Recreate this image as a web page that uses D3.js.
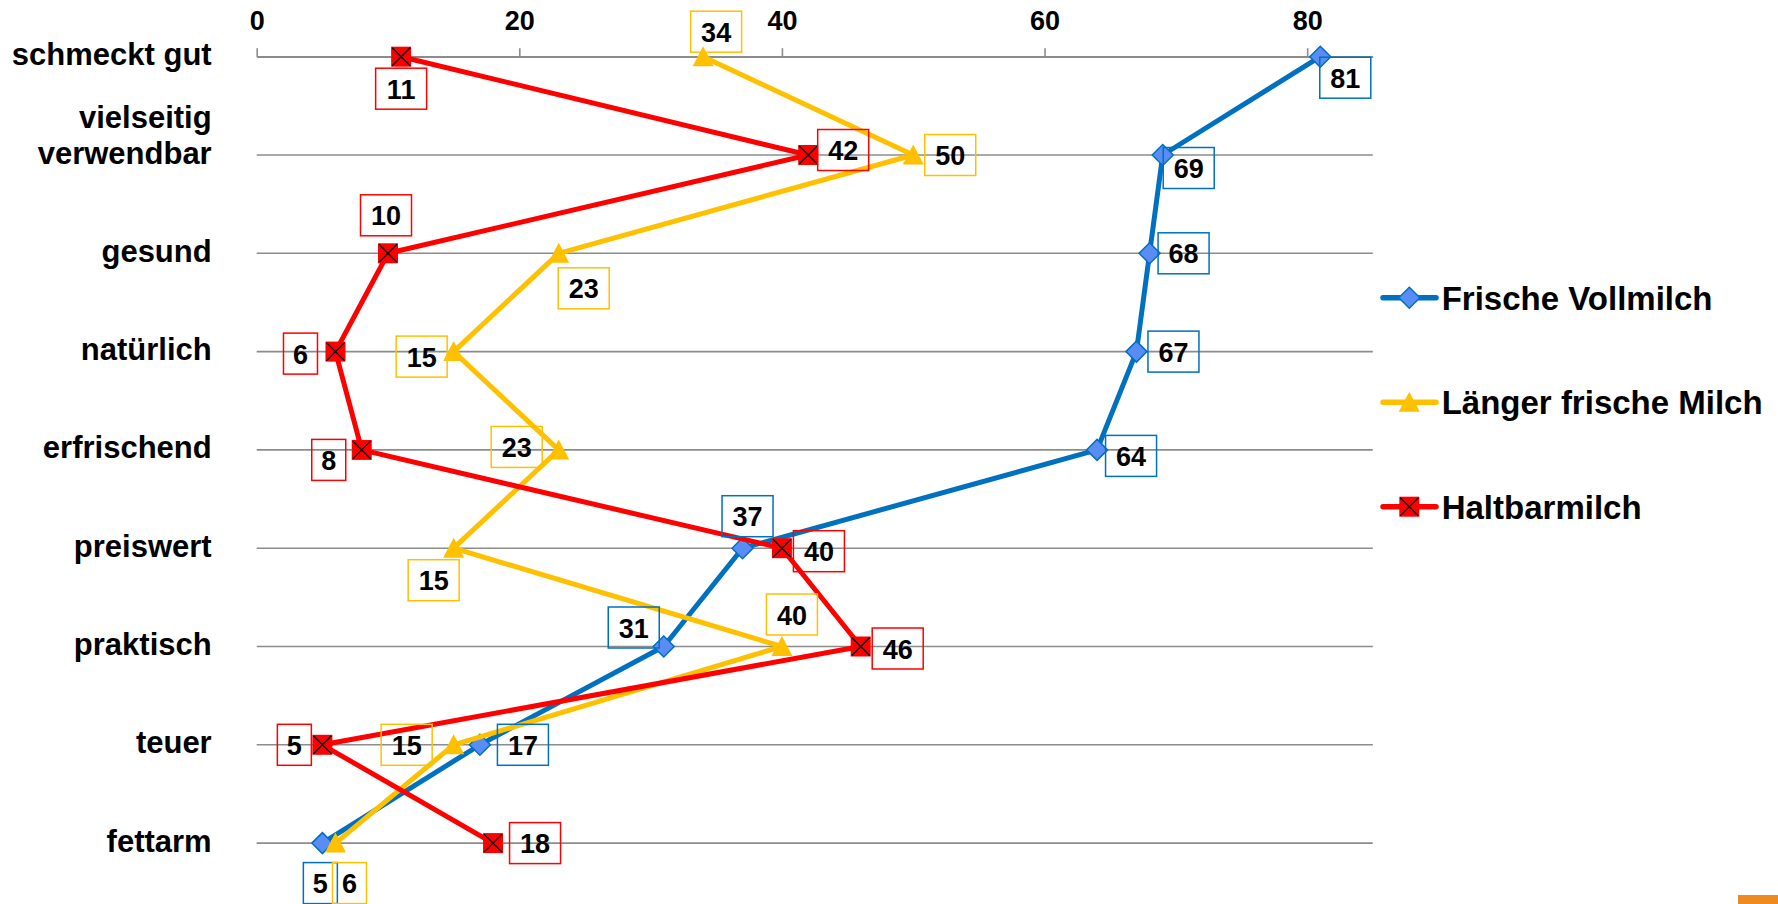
<!DOCTYPE html>
<html>
<head>
<meta charset="utf-8">
<script src="https://cdn.jsdelivr.net/npm/d3@7"></script>
<style>
  body { margin: 0; background: #fff; }
  svg { display: block; font-family: "Liberation Sans", Arial, sans-serif; font-weight: bold; }
</style>
</head>
<body>
<svg id="chart" width="1778" height="904"></svg>
<script>
// categories top to bottom
var categories = ["schmeckt gut", "vielseitig\nverwendbar", "gesund", "natürlich", "erfrischend",
  "preiswert", "praktisch", "teuer", "fettarm"];

var frischeVollmilch = [81, 69, 68, 67, 64, 37, 31, 17, 5];
var laengerFrischeMilch = [34, 50, 23, 15, 23, 15, 40, 15, 6];
var haltbarmilch = [11, 42, 10, 6, 8, 40, 46, 5, 18];

var seriesNames = ["Frische Vollmilch", "Länger frische Milch", "Haltbarmilch"];
var xTicks = [0, 20, 40, 60, 80];

// where each data label sits, relative to its marker (box centre)
var labelOffsets = [
  [[25, 21], [26, 13], [34, 0], [37, 0], [34, 6], [5, -32], [-30, -19], [43, 0], [-2, 40]],
  [[13, -25], [37, 0], [25, 35], [-32, 5], [-42, -3], [-20, 32], [10, -32], [-47, 0], [14, 40]],
  [[0, 32], [35, -5], [-2, -38], [-35, 2], [-33, 10], [37, 3], [37, 2], [-28, 0], [42, 0]]
];

var colors = ["#0070C0", "#FFC000", "#FF0000"];
var markers = ["diamond", "triangle", "cross"];

var svg = d3.select("#chart");

var x = d3.scaleLinear().domain([0, 85]).range([256.7, 1372.8]);
var y = d3.scalePoint().domain(categories).range([56.7, 843.1]).padding(0);

// horizontal gridlines at every category
svg.append("g")
  .selectAll("line")
  .data(categories)
  .enter()
  .append("line")
  .attr("x1", x(0))
  .attr("x2", x(85))
  .attr("y1", d => y(d))
  .attr("y2", d => y(d))
  .attr("stroke", "#8c8c8c")
  .attr("stroke-width", 1.6);

// value axis on top
var axis = svg.append("g")
  .attr("transform", "translate(0," + y(categories[0]) + ")")
  .call(d3.axisTop(x).tickValues(xTicks).tickSize(8.5).tickSizeOuter(0));
axis.select(".domain").attr("stroke", "#8c8c8c").attr("stroke-width", 1.6);
axis.selectAll(".tick line").attr("stroke", "#8c8c8c").attr("stroke-width", 1.6);
axis.selectAll(".tick text")
  .attr("y", 30 - y(categories[0]))
  .attr("dy", 0)
  .attr("fill", "#000")
  .style("font-size", "27px")
  .style("font-family", "'Liberation Sans', Arial, sans-serif")
  .style("font-weight", "bold");

// category labels
var catLabels = svg.append("g")
  .selectAll("text")
  .data(categories)
  .enter()
  .append("text")
  .attr("text-anchor", "end")
  .attr("x", 211.7)
  .attr("y", d => y(d) + 8.5)
  .style("font-size", "31px")
  .attr("fill", "#000");

catLabels.each(function (d) {
  var lines = d.split("\n");
  var t = d3.select(this);
  lines.forEach(function (line, i) {
    t.append("tspan")
      .attr("x", 211.7)
      .attr("dy", i === 0 ? -(lines.length - 1) * 36 : 36)
      .text(line);
  });
});

function drawMarker(g, type, cx, cy, color) {
  if (type === "diamond") {
    g.append("path")
      .attr("d", "M" + cx + "," + (cy - 10.5) + "L" + (cx + 10.5) + "," + cy + "L" + cx + "," + (cy + 10.5) + "L" + (cx - 10.5) + "," + cy + "Z")
      .attr("fill", "#5A8CF5")
      .attr("stroke", color)
      .attr("stroke-width", 1.5);
  } else if (type === "triangle") {
    g.append("path")
      .attr("d", "M" + cx + "," + (cy - 10.5) + "L" + (cx + 10.5) + "," + (cy + 9.5) + "L" + (cx - 10.5) + "," + (cy + 9.5) + "Z")
      .attr("fill", color);
  } else {
    g.append("rect")
      .attr("x", cx - 10).attr("y", cy - 10)
      .attr("width", 20).attr("height", 20)
      .attr("fill", color);
    g.append("path")
      .attr("d", "M" + (cx - 9) + "," + (cy - 9) + "L" + (cx + 9) + "," + (cy + 9) + "M" + (cx + 9) + "," + (cy - 9) + "L" + (cx - 9) + "," + (cy + 9))
      .attr("stroke", "#000")
      .attr("stroke-width", 1.3);
  }
}

var allSeries = [frischeVollmilch, laengerFrischeMilch, haltbarmilch];

var line = d3.line()
  .x(d => x(d.v))
  .y(d => y(d.c));

allSeries.forEach(function (values, s) {
  var pts = values.map((v, i) => ({ v: v, c: categories[i] }));
  var g = svg.append("g").attr("class", "series-" + s);
  g.append("path")
    .datum(pts)
    .attr("d", line)
    .attr("fill", "none")
    .attr("stroke", colors[s])
    .attr("stroke-width", 5)
    .attr("stroke-linejoin", "round")
    .attr("stroke-linecap", "round");
  pts.forEach(function (p) {
    drawMarker(g, markers[s], x(p.v), y(p.c), colors[s]);
  });
});

// data labels with coloured frames
var labelLayer = svg.append("g");
allSeries.forEach(function (values, s) {
  values.forEach(function (v, i) {
    var cx = x(v) + labelOffsets[s][i][0];
    var cy = y(categories[i]) + labelOffsets[s][i][1];
    var w = String(v).length > 1 ? 51 : 34;
    labelLayer.append("rect")
      .attr("x", cx - w / 2)
      .attr("y", cy - 20.5)
      .attr("width", w)
      .attr("height", 41)
      .attr("fill", "none")
      .attr("stroke", colors[s])
      .attr("stroke-width", 1.5);
    labelLayer.append("text")
      .attr("x", cx)
      .attr("y", cy + 10)
      .attr("text-anchor", "middle")
      .style("font-size", "27px")
      .attr("fill", "#000")
      .text(v);
  });
});

// legend
var legend = svg.append("g");
seriesNames.forEach(function (name, s) {
  var ly = 297.7 + s * 104.5;
  legend.append("line")
    .attr("x1", 1383).attr("x2", 1436)
    .attr("y1", ly).attr("y2", ly)
    .attr("stroke", colors[s])
    .attr("stroke-width", 5.5)
    .attr("stroke-linecap", "round");
  drawMarker(legend, markers[s], 1409.3, ly, colors[s]);
  legend.append("text")
    .attr("x", 1441.7)
    .attr("y", ly + 12)
    .style("font-size", "33px")
    .attr("fill", "#000")
    .text(name);
});

// little orange tab in the corner of the slide
svg.append("rect")
  .attr("x", 1738).attr("y", 895)
  .attr("width", 40).attr("height", 9)
  .attr("fill", "#EE8A20");
</script>
</body>
</html>
